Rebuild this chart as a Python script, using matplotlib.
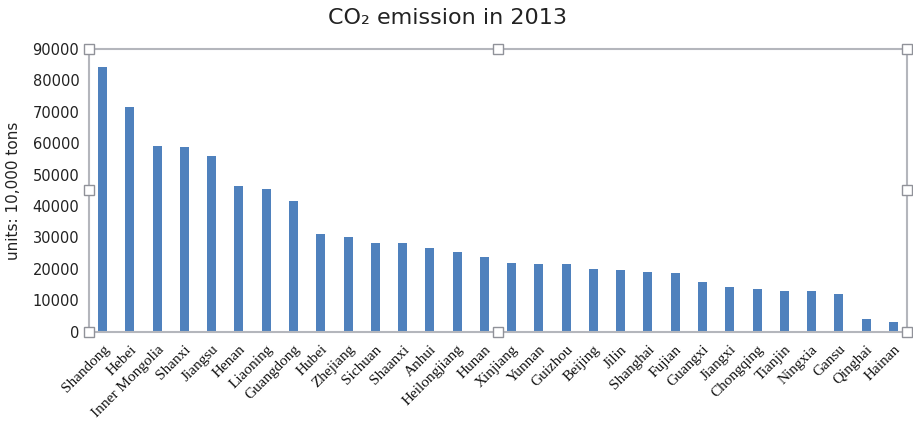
import matplotlib
matplotlib.use("Agg")
import matplotlib.pyplot as plt

provinces = [
    "Shandong", "Hebei", "Inner Mongolia", "Shanxi", "Jiangsu", "Henan",
    "Liaoning", "Guangdong", "Hubei", "Zhejiang", "Sichuan", "Shaanxi",
    "Anhui", "Heilongjiang", "Hunan", "Xinjiang", "Yunnan", "Guizhou",
    "Beijing", "Jilin", "Shanghai", "Fujian", "Guangxi", "Jiangxi",
    "Chongqing", "Tianjin", "Ningxia", "Gansu", "Qinghai", "Hainan",
]
emissions = [
    84400, 71500, 59100, 58700, 55900, 46400,
    45300, 41500, 31100, 30100, 28200, 28200,
    26700, 25300, 23900, 22000, 21500, 21500,
    20100, 19700, 19100, 18600, 15800, 14300,
    13500, 13000, 13000, 12000, 4000, 3000,
]
y_ticks = list(range(0, 90001, 10000))

bar_color = "#4F81BD"
frame_color = "#B4B6BC"

fig = plt.figure(figsize=(9.13, 4.29), dpi=100)
ax = fig.add_axes([0.0975, 0.2268, 0.8959, 0.659])

x = list(range(len(provinces)))
ax.bar(x, emissions, width=0.33, color=bar_color)
ax.set_xlim(-0.5, len(provinces) - 0.5)
ax.set_ylim(0, 90000)

ax.set_yticks(y_ticks)
ax.set_yticklabels([str(v) for v in y_ticks], fontsize=10.5, color="#222222")
ax.tick_params(axis="y", length=0, pad=7)
ax.set_xticks(x)
ax.set_xticklabels(provinces, rotation=45, ha="right", rotation_mode="anchor",
                   family="Liberation Serif", fontsize=11, color="#111111")
ax.tick_params(axis="x", length=0, pad=8)

for spine in ax.spines.values():
    spine.set_color(frame_color)
    spine.set_linewidth(1.5)

ax.set_ylabel("units: 10,000 tons", fontsize=11, color="#222222", labelpad=8)
fig.text(0.49, 0.957, "CO\u2082 emission in 2013", ha="center", va="center",
         fontsize=16, color="#222222")

# selection handles on the plot-area frame
handles_x = [0, 0.5, 1, 0, 1, 0, 0.5, 1]
handles_y = [1, 1, 1, 0.5, 0.5, 0, 0, 0]
ax.plot(handles_x, handles_y, "s", transform=ax.transAxes, clip_on=False,
        markersize=7, markerfacecolor="white", markeredgecolor="#909299",
        markeredgewidth=1.0, zorder=5)

fig.savefig("out.png", dpi=100)
